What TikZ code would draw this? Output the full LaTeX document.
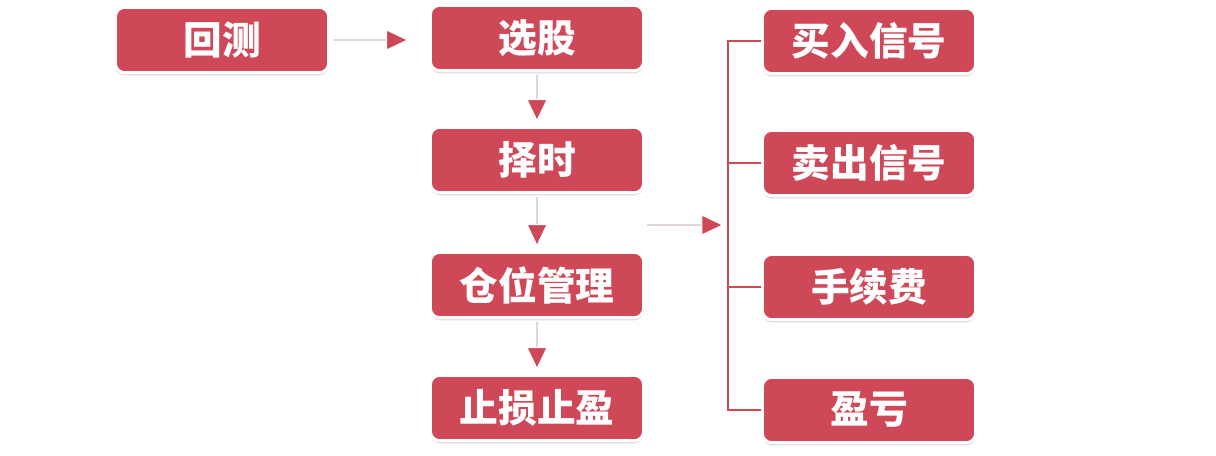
\documentclass[tikz,border=0pt]{standalone}
\usepackage{fontspec}
\newfontfamily\cjk{Noto Sans CJK SC}
\usetikzlibrary{arrows.meta,shadows}
\definecolor{boxred}{RGB}{207,72,88}
\definecolor{lineg}{RGB}{226,214,216}
\begin{document}
\begin{tikzpicture}[x=0.75pt,y=-0.75pt,
 box/.style={rectangle, rounded corners=7pt, fill=boxred, draw=white, line width=2.25pt,
   minimum width=160pt, minimum height=49pt, inner sep=0pt, text=white,
   font=\cjk\bfseries\fontsize{29pt}{30pt}\selectfont,
   drop shadow={shadow xshift=0pt, shadow yshift=-2pt, opacity=0.3, fill=black!45}},
 flow/.style={draw=lineg, line width=1.5pt,
   -{Triangle[length=17pt,width=16pt,fill=boxred,color=white,line width=0.8pt]}},
 brk/.style={draw=boxred, line width=1.1pt}]
\useasboundingbox (0,0) rectangle (1216,456);
\fill[white] (0,0) rectangle (1216,456);

\node[box] (hc) at (222,40) {回测};
\node[box] (xg) at (537,38) {选股};
\node[box] (zs) at (537,160) {择时};
\node[box] (cw) at (537,285) {仓位管理};
\node[box] (zy) at (537,408) {止损止盈};
\node[box] (mr) at (869,41) {买入信号};
\node[box] (mc) at (869,163) {卖出信号};
\node[box] (sx) at (869,287) {手续费};
\node[box] (yk) at (869,410) {盈亏};

\draw[flow, shorten <=2pt, shorten >=15pt] (hc.east) -- (hc.east -| xg.west);
\draw[flow, shorten <=2pt, shorten >=3pt] (xg.south) -- (zs.north);
\draw[flow, shorten <=2pt, shorten >=3pt] (zs.south) -- (cw.north);
\draw[flow, shorten <=2pt, shorten >=3pt] (cw.south) -- (zy.north);

\coordinate (ms) at (647,225);
\coordinate (me) at (724,225);
\draw[flow] (ms) -- (me);

\coordinate (bx) at (728,0);
\draw[brk] (mr.west) -- (mr.west -| bx) -- (yk.west -| bx) -- (yk.west);
\draw[brk] (mc.west) -- (mc.west -| bx);
\draw[brk] (sx.west) -- (sx.west -| bx);
\end{tikzpicture}
\end{document}
